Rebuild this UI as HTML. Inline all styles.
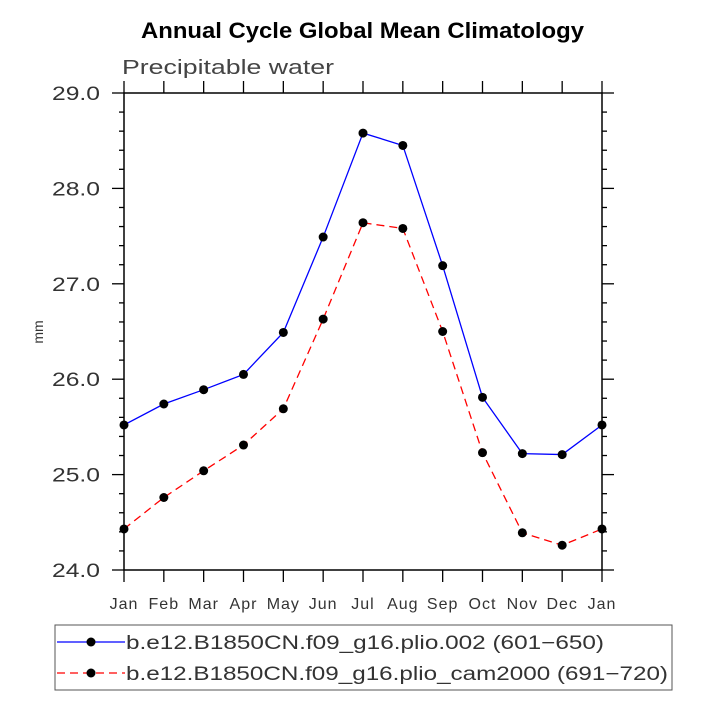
<!DOCTYPE html>
<html><head><meta charset="utf-8"><style>
body{margin:0;background:#fff}
svg text{font-family:"Liberation Sans",sans-serif}
</style></head><body>
<svg id="chart" width="708" height="708" viewBox="0 0 708 708" xmlns="http://www.w3.org/2000/svg">
<text x="141" y="38" font-size="22" font-weight="bold" textLength="443" lengthAdjust="spacingAndGlyphs">Annual Cycle Global Mean Climatology</text>
<text x="122" y="74" font-size="20" fill="#444" textLength="212" lengthAdjust="spacingAndGlyphs">Precipitable water</text>
<text transform="translate(43,332) rotate(-90)" text-anchor="middle" font-size="14" fill="#333">mm</text>
<g id="axes"></g>
<g id="series"></g>
<rect x="55" y="625" width="617" height="65" fill="none" stroke="#555" stroke-width="1"/>
<g id="legend"></g>
</svg>
<script>
const months=["Jan","Feb","Mar","Apr","May","Jun","Jul","Aug","Sep","Oct","Nov","Dec","Jan"];
const yTicks=[24,25,26,27,28,29];
const seriesA=[25.52,25.74,25.89,26.05,26.49,27.49,28.58,28.45,27.19,25.81,25.22,25.21,25.52];
const seriesB=[24.43,24.76,25.04,25.31,25.69,26.63,27.64,27.58,26.50,25.23,24.39,24.26,24.43];
const labelA="b.e12.B1850CN.f09_g16.plio.002 (601−650)";
const labelB="b.e12.B1850CN.f09_g16.plio_cam2000 (691−720)";
const L=124,R=602,T=93,B=570,y0=24,y1=29;
const NS="http://www.w3.org/2000/svg";
const xs=i=>L+(R-L)*i/(months.length-1);
const ys=v=>B-(v-y0)/(y1-y0)*(B-T);
function mk(tag,attrs,parent){const e=document.createElementNS(NS,tag);for(const k in attrs)e.setAttribute(k,attrs[k]);parent.appendChild(e);return e;}
const ax=document.getElementById('axes');
let e=mk('rect',{x:L,y:T,width:R-L,height:B-T,fill:'none',stroke:'#000','stroke-width':1.5},ax);


months.forEach((m,i)=>{
  const x=xs(i);
  mk('line',{x1:x,y1:B,x2:x,y2:B+12,stroke:'#000','stroke-width':1.3},ax);
  mk('line',{x1:x,y1:T,x2:x,y2:T-12,stroke:'#000','stroke-width':1.3},ax);
  const t=mk('text',{x:x,y:B+39,'text-anchor':'middle','font-size':16,fill:'#333','letter-spacing':1},ax);
  t.textContent=m;
  
  
});
for(let v=y0;v<=y1+1e-9;v+=0.2){
  const y=ys(v);const major=Math.abs(v-Math.round(v))<1e-6;
  const len=major?12:5;
  mk('line',{x1:L-len,y1:y,x2:L,y2:y,stroke:'#000','stroke-width':1.3},ax);
  mk('line',{x1:R,y1:y,x2:R+len,y2:y,stroke:'#000','stroke-width':1.3},ax);
}
yTicks.forEach(v=>{
  const t=mk('text',{x:L-72,y:ys(v)+7,'font-size':19,fill:'#333',textLength:48,lengthAdjust:'spacingAndGlyphs'},ax);
  t.textContent=v.toFixed(1);
  
  
});
const sg=document.getElementById('series');
function drawSeries(vals,color,dash,name){
  const p=mk('polyline',{points:vals.map((v,i)=>xs(i)+','+ys(v)).join(' '),fill:'none',stroke:color,'stroke-width':1.3,'stroke-dasharray':dash},sg);
  
  
  vals.forEach((v,i)=>{
    const c=mk('circle',{cx:xs(i),cy:ys(v),r:4.5,fill:'#000'},sg);
    
    
  });
}
drawSeries(seriesA,'#0000ff','none','plio-002');
drawSeries(seriesB,'#ff0000','8,5','plio-cam2000');
const lg=document.getElementById('legend');
function legendEntry(y,color,dash,label,name,w){
  const g=mk('g',{},lg);
  
  
  mk('line',{x1:57,y1:y,x2:125,y2:y,stroke:color,'stroke-width':1.3,'stroke-dasharray':dash},g);
  mk('circle',{cx:91,cy:y,r:4.5,fill:'#000'},g);
  const t=mk('text',{x:126,y:y+7,'font-size':19,fill:'#333',textLength:w,lengthAdjust:'spacingAndGlyphs'},g);
  t.textContent=label;
}
legendEntry(642,'#0000ff','none',labelA,'legend-entry-plio-002',478);
legendEntry(673,'#ff0000','8,5',labelB,'legend-entry-plio-cam2000',542);
</script>
</body></html>
